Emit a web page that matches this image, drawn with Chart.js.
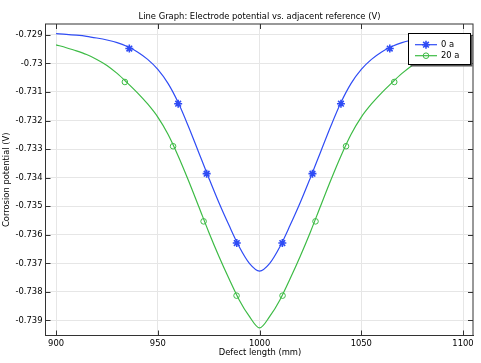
<!DOCTYPE html>
<html>
<head>
<meta charset="utf-8">
<script src="https://cdn.jsdelivr.net/npm/chart.js@4.4.0/dist/chart.umd.min.js"></script>
<style>
html, body { margin: 0; padding: 0; background: #fff; }
</style>
</head>
<body>
<canvas id="myChart" width="481" height="363"></canvas>
<script>
// curve samples (mm, V), every 5 mm
var curveX = [900, 905, 910, 915, 920, 925, 930, 935, 940, 945, 950, 955, 960, 965, 970, 975, 980, 985, 990, 995, 1000,
              1005, 1010, 1015, 1020, 1025, 1030, 1035, 1040, 1045, 1050, 1055, 1060, 1065, 1070, 1075, 1080, 1085, 1090, 1095, 1100]
var curve0a = [-0.72896, -0.72898, -0.72901, -0.72905, -0.72911, -0.72918, -0.72927, -0.72941, -0.72960, -0.72986,
               -0.73021, -0.73070, -0.73137, -0.73220, -0.73310, -0.73400, -0.73487, -0.73567, -0.73642, -0.73700,
               -0.73727,
               -0.73700, -0.73642, -0.73567, -0.73487, -0.73400, -0.73310, -0.73220, -0.73137, -0.73070, -0.73021,
               -0.72986, -0.72960, -0.72941, -0.72927, -0.72918, -0.72911, -0.72905, -0.72901, -0.72898, -0.72896]
var curve20a = [-0.72935, -0.72945, -0.72956, -0.72969, -0.72986, -0.73007, -0.73035, -0.73068, -0.73103, -0.73142,
                -0.73188, -0.73248, -0.73324, -0.73409, -0.73499, -0.73590, -0.73675, -0.73754, -0.73828, -0.73886,
                -0.73926,
                -0.73886, -0.73828, -0.73754, -0.73675, -0.73590, -0.73499, -0.73409, -0.73324, -0.73248, -0.73188,
                -0.73142, -0.73103, -0.73068, -0.73035, -0.73007, -0.72986, -0.72969, -0.72956, -0.72945, -0.72935]

// marker positions
var markX0a = [936, 960, 974, 988.8, 1011.2, 1026, 1040, 1064]
var markY0a = [-0.72948, -0.73141, -0.73386, -0.73629, -0.73629, -0.73386, -0.73141, -0.72948]
var markX20a = [933.8, 957.5, 972.5, 988.7, 1011.3, 1027.5, 1042.5, 1066.2]
var markY20a = [-0.73065, -0.73290, -0.73553, -0.73813, -0.73813, -0.73553, -0.73290, -0.73065]

var seriesNames = ["0 a", "20 a"]
var xTicks = [900, 950, 1000, 1050, 1100]
var yTicks = [-0.739, -0.738, -0.737, -0.736, -0.735, -0.734, -0.733, -0.732, -0.731, -0.73, -0.729]
var yTickLabels = ["-0.739", "-0.738", "-0.737", "-0.736", "-0.735", "-0.734", "-0.733", "-0.732", "-0.731", "-0.73", "-0.729"]

var blue = "#2f4cf5"
var green = "#3dbb45"
var fontFam = "'DejaVu Sans', sans-serif"
var fontSize = 8.4

function pts(xs, ys) {
    var out = []
    for (let i = 0; i < xs.length; i++) out.push({ x: xs[i], y: ys[i] })
    return out
}

function drawStar(ctx, x, y, r) {
    ctx.beginPath()
    ctx.moveTo(x - r, y); ctx.lineTo(x + r, y)
    ctx.moveTo(x, y - r); ctx.lineTo(x, y + r)
    var d = r * 0.7071
    ctx.moveTo(x - d, y - d); ctx.lineTo(x + d, y + d)
    ctx.moveTo(x - d, y + d); ctx.lineTo(x + d, y - d)
    ctx.stroke()
}

var framePlugin = {
    id: "frame",
    afterDraw(chart) {
        var ctx = chart.ctx
        var a = chart.chartArea
        var xs = chart.scales.x, ys = chart.scales.y
        ctx.save()
        // frame
        ctx.strokeStyle = "#333"
        ctx.lineWidth = 1
        ctx.strokeRect(a.left, a.top, a.right - a.left, a.bottom - a.top)
        // inward ticks on all sides
        ctx.beginPath()
        xTicks.forEach(function (v) {
            var px = Math.round(xs.getPixelForValue(v)) + 0.5
            ctx.moveTo(px, a.bottom); ctx.lineTo(px, a.bottom - 5)
            ctx.moveTo(px, a.top); ctx.lineTo(px, a.top + 5)
        })
        yTicks.forEach(function (v) {
            var py = Math.round(ys.getPixelForValue(v)) + 0.5
            ctx.moveTo(a.left, py); ctx.lineTo(a.left + 5, py)
            ctx.moveTo(a.right, py); ctx.lineTo(a.right - 5, py)
        })
        ctx.stroke()

        // titles
        ctx.fillStyle = "#000"
        ctx.font = fontSize + "px " + fontFam
        ctx.textAlign = "center"
        ctx.textBaseline = "middle"
        ctx.fillText("Line Graph: Electrode potential vs. adjacent reference (V)", 259.5, 16.5)
        ctx.fillText("Defect length (mm)", 260, 352.5)
        ctx.save()
        ctx.translate(7, (a.top + a.bottom) / 2)
        ctx.rotate(-Math.PI / 2)
        ctx.fillText("Corrosion potential (V)", 0, 0)
        ctx.restore()

        // legend box
        var lx = 408.5, ly = 33.5, lw = 62, lh = 31
        ctx.fillStyle = "#555"
        ctx.fillRect(lx + 2, ly + 2, lw, lh)
        ctx.fillStyle = "#fff"
        ctx.fillRect(lx, ly, lw, lh)
        ctx.strokeStyle = "#000"
        ctx.lineWidth = 1
        ctx.strokeRect(lx, ly, lw, lh)

        var rows = [
            { y: 44.7, color: blue, mark: "star" },
            { y: 55.7, color: green, mark: "circle" }
        ]
        rows.forEach(function (r, i) {
            ctx.strokeStyle = r.color
            ctx.lineWidth = 1.2
            ctx.beginPath()
            ctx.moveTo(415, r.y); ctx.lineTo(437, r.y)
            ctx.stroke()
            if (r.mark === "star") {
                ctx.lineWidth = 1.6
                drawStar(ctx, 426, r.y, 4)
            } else {
                ctx.lineWidth = 1
                ctx.beginPath()
                ctx.arc(426, r.y, 2.8, 0, Math.PI * 2)
                ctx.stroke()
            }
            ctx.fillStyle = "#000"
            ctx.textAlign = "left"
            ctx.fillText(seriesNames[i], 441, r.y + 0.5)
        })
        ctx.restore()
    }
}

new Chart("myChart", {
    type: "scatter",
    data: {
        datasets: [
            {
                label: seriesNames[0],
                data: pts(curveX, curve0a),
                showLine: true,
                borderColor: blue,
                borderWidth: 1.2,
                pointRadius: 0,
                cubicInterpolationMode: "monotone"
            },
            {
                label: seriesNames[1],
                data: pts(curveX, curve20a),
                showLine: true,
                borderColor: green,
                borderWidth: 1.2,
                pointRadius: 0,
                cubicInterpolationMode: "monotone"
            },
            {
                label: seriesNames[0] + " markers",
                data: pts(markX0a, markY0a),
                showLine: false,
                pointStyle: "star",
                pointRadius: 4,
                borderColor: blue,
                borderWidth: 1.6,
                backgroundColor: blue
            },
            {
                label: seriesNames[1] + " markers",
                data: pts(markX20a, markY20a),
                showLine: false,
                pointStyle: "circle",
                pointRadius: 2.8,
                borderColor: green,
                borderWidth: 1,
                backgroundColor: "rgba(0,0,0,0)"
            }
        ]
    },
    options: {
        responsive: false,
        animation: false,
        devicePixelRatio: 1,
        layout: { padding: { top: 24, right: 8, left: 0, bottom: 0 } },
        plugins: {
            legend: { display: false },
            title: { display: false },
            tooltip: { enabled: false }
        },
        scales: {
            x: {
                type: "linear",
                min: 894.8,
                max: 1104.9,
                afterBuildTicks: function (s) { s.ticks = xTicks.map(function (v) { return { value: v } }) },
                afterFit: function (s) { s.height = 27.5 },
                ticks: {
                    color: "#000",
                    font: { family: fontFam, size: fontSize },
                    padding: 3,
                    maxRotation: 0,
                    autoSkip: false,
                    callback: function (v) { return String(v) }
                },
                grid: { color: "#e6e6e6", drawTicks: false },
                border: { color: "#333", width: 1 }
            },
            y: {
                min: -0.739526,
                max: -0.72862,
                afterBuildTicks: function (s) { s.ticks = yTicks.map(function (v) { return { value: v } }) },
                afterFit: function (s) { s.width = 45.5 },
                ticks: {
                    color: "#000",
                    font: { family: fontFam, size: fontSize },
                    padding: 3,
                    autoSkip: false,
                    callback: function (v, i) { return yTickLabels[i] }
                },
                grid: { color: "#e6e6e6", drawTicks: false },
                border: { color: "#333", width: 1 }
            }
        }
    },
    plugins: [framePlugin]
})
</script>
</body>
</html>
